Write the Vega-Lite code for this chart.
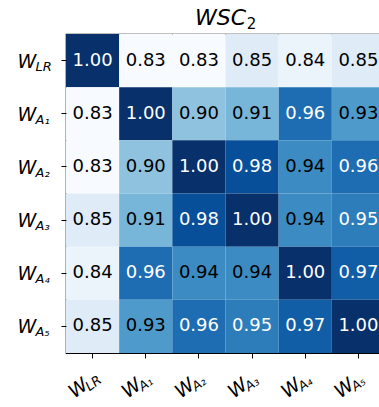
{
  "$schema": "https://vega.github.io/schema/vega-lite/v6.json",
  "width": 319,
  "height": 319,
  "autosize": {"type": "none"},
  "padding": {"left": 66, "top": 34, "right": 0, "bottom": 54},
  "title": {"text": "WSC", "subtitle": "\u200b\u2007\u2007\u2007\u2007\u2007\u2007\u00a02", "font": "DejaVu Sans", "fontSize": 22, "fontStyle": "italic", "fontWeight": "normal", "subtitleFont": "DejaVu Sans", "subtitleFontSize": 15, "subtitleFontStyle": "normal", "subtitleColor": "black", "subtitlePadding": -18, "anchor": "middle", "frame": "group", "baseline": "alphabetic", "offset": 11, "dx": -5, "dy": 27, "color": "black"},
  "data": {"values": [
    {"r": "LR", "c": "LR", "v": 1.00}, {"r": "LR", "c": "A₁", "v": 0.83}, {"r": "LR", "c": "A₂", "v": 0.83}, {"r": "LR", "c": "A₃", "v": 0.85}, {"r": "LR", "c": "A₄", "v": 0.84}, {"r": "LR", "c": "A₅", "v": 0.85},
    {"r": "A₁", "c": "LR", "v": 0.83}, {"r": "A₁", "c": "A₁", "v": 1.00}, {"r": "A₁", "c": "A₂", "v": 0.90}, {"r": "A₁", "c": "A₃", "v": 0.91}, {"r": "A₁", "c": "A₄", "v": 0.96}, {"r": "A₁", "c": "A₅", "v": 0.93},
    {"r": "A₂", "c": "LR", "v": 0.83}, {"r": "A₂", "c": "A₁", "v": 0.90}, {"r": "A₂", "c": "A₂", "v": 1.00}, {"r": "A₂", "c": "A₃", "v": 0.98}, {"r": "A₂", "c": "A₄", "v": 0.94}, {"r": "A₂", "c": "A₅", "v": 0.96},
    {"r": "A₃", "c": "LR", "v": 0.85}, {"r": "A₃", "c": "A₁", "v": 0.91}, {"r": "A₃", "c": "A₂", "v": 0.98}, {"r": "A₃", "c": "A₃", "v": 1.00}, {"r": "A₃", "c": "A₄", "v": 0.94}, {"r": "A₃", "c": "A₅", "v": 0.95},
    {"r": "A₄", "c": "LR", "v": 0.84}, {"r": "A₄", "c": "A₁", "v": 0.96}, {"r": "A₄", "c": "A₂", "v": 0.94}, {"r": "A₄", "c": "A₃", "v": 0.94}, {"r": "A₄", "c": "A₄", "v": 1.00}, {"r": "A₄", "c": "A₅", "v": 0.97},
    {"r": "A₅", "c": "LR", "v": 0.85}, {"r": "A₅", "c": "A₁", "v": 0.93}, {"r": "A₅", "c": "A₂", "v": 0.96}, {"r": "A₅", "c": "A₃", "v": 0.95}, {"r": "A₅", "c": "A₄", "v": 0.97}, {"r": "A₅", "c": "A₅", "v": 1.00}
  ]},
  "layer": [
    {
      "mark": {"type": "rect"},
      "encoding": {
        "x": {"field": "c", "type": "nominal", "sort": ["LR", "A₁", "A₂", "A₃", "A₄", "A₅"], "title": null,
          "axis": {"orient": "bottom", "labelExpr": "'W'", "labelFont": "DejaVu Sans", "labelFontStyle": "italic", "labelFontSize": 19, "labelAngle": -37, "labelAlign": "right", "labelBaseline": "alphabetic", "labelOffset": -3, "labelPadding": 29, "tickSize": 5, "labelOverlap": false, "labelBound": false, "labelFlush": false}},
        "y": {"field": "r", "type": "nominal", "sort": ["LR", "A₁", "A₂", "A₃", "A₄", "A₅"], "title": null,
          "axis": {"orient": "left", "labelExpr": "'W'", "labelFont": "DejaVu Sans", "labelFontStyle": "italic", "labelFontSize": 19, "labelAlign": "left", "labelBaseline": "alphabetic", "labelOffset": 7, "labelPadding": 44, "tickSize": 5, "labelOverlap": false, "labelBound": false}},
        "color": {"field": "v", "type": "quantitative", "legend": null,
          "scale": {"domain": [0.83, 0.85125, 0.8725, 0.89375, 0.915, 0.93625, 0.9575, 0.97875, 1.0],
                    "range": ["#f7fbff", "#deebf7", "#c6dbef", "#9ecae1", "#6baed6", "#4292c6", "#2171b5", "#08519c", "#08306b"],
                    "interpolate": "rgb"}}
      }
    },
    {
      "mark": {"type": "text", "font": "DejaVu Sans", "fontSize": 18, "baseline": "middle"},
      "encoding": {
        "x": {"field": "c", "type": "nominal", "sort": ["LR", "A₁", "A₂", "A₃", "A₄", "A₅"], "title": null,
          "axis": {"orient": "bottom", "tickOpacity": 0, "tickSize": 5, "labelFont": "DejaVu Sans", "labelFontStyle": "italic", "labelFontSize": 13, "labelAngle": -37, "labelAlign": "left", "labelBaseline": "alphabetic", "labelOffset": -3, "labelPadding": 33, "labelOverlap": false, "labelBound": false, "labelFlush": false}},
        "y": {"field": "r", "type": "nominal", "sort": ["LR", "A₁", "A₂", "A₃", "A₄", "A₅"], "title": null,
          "axis": {"orient": "left", "tickOpacity": 0, "tickSize": 5, "labelFont": "DejaVu Sans", "labelFontStyle": "italic", "labelFontSize": 13, "labelAlign": "left", "labelBaseline": "alphabetic", "labelOffset": 10, "labelPadding": 26, "labelOverlap": false, "labelBound": false}},
        "text": {"field": "v", "type": "quantitative", "format": ".2f"},
        "color": {"condition": {"test": "datum.v > 0.945", "value": "white"}, "value": "black"}
      }
    }
  ],
  "resolve": {"axis": {"x": "independent", "y": "independent"}},
  "config": {
    "view": {"stroke": "black", "strokeWidth": 1.2},
    "axis": {"domain": false, "grid": false, "tickColor": "black", "labelColor": "black"},
    "background": "white"
  }
}
